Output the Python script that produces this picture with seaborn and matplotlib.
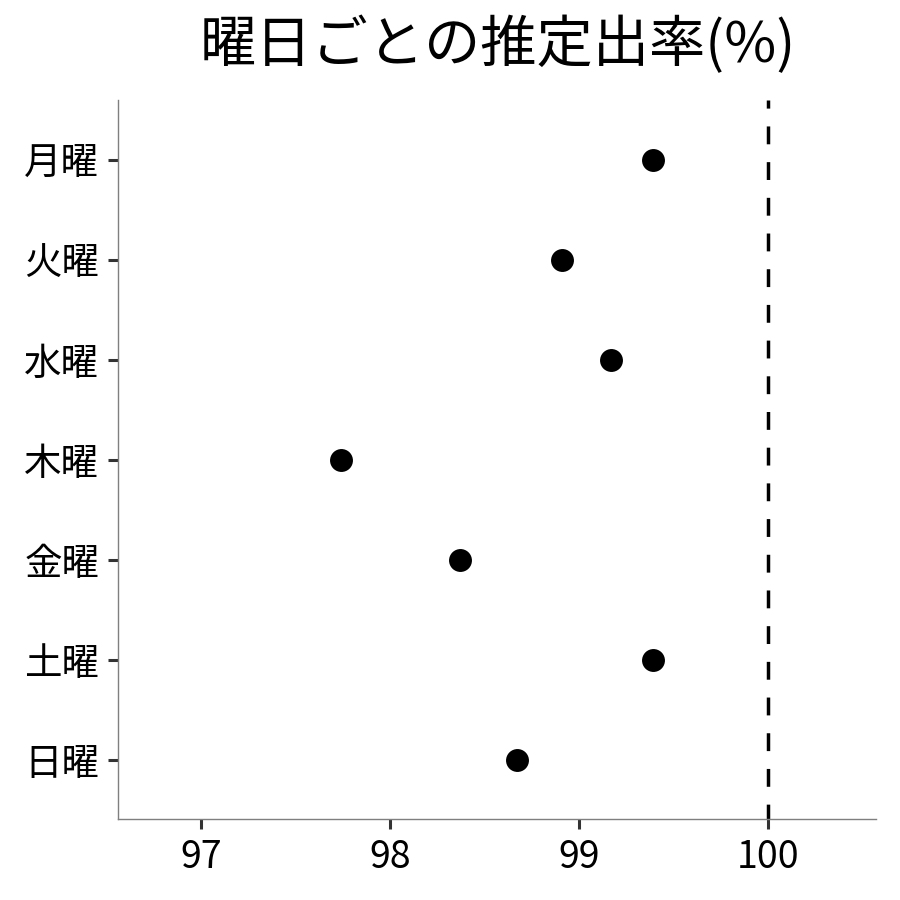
import pandas as pd
import matplotlib
matplotlib.use('Agg')
import matplotlib.pyplot as plt
import seaborn as sns

days = ['月曜', '火曜', '水曜', '木曜', '金曜', '土曜', '日曜']
rates = [99.39, 98.91, 99.17, 97.74, 98.37, 99.39, 98.67]
x_ticks = [97, 98, 99, 100]
ref_line = 100

df = pd.DataFrame({'曜日': days, '出率': rates})

sns.set_style('white')
plt.rcParams['font.family'] = ['Noto Sans CJK JP', 'DejaVu Sans']

fig = plt.figure(figsize=(9, 9), dpi=100)
ax = fig.add_axes([0.131, 0.09, 0.842, 0.799])

sns.stripplot(data=df, x='出率', y='曜日', order=days, jitter=False,
              color='black', size=16.5, linewidth=0, ax=ax)
ax.axvline(ref_line, color='black', linestyle=(0.86, (5.14, 5.14)), linewidth=2.5)

ax.set_xlim(96.56, 100.57)
ax.set_ylim(6.59, -0.6)
ax.set_xticks(x_ticks)
ax.set_xlabel('')
ax.set_ylabel('')
ax.tick_params(axis='both', which='major', labelsize=27, length=7, width=2.2,
               color='#333333', pad=6.5, labelcolor='black', direction='out')
ax.tick_params(axis='both', bottom=True, left=True)

for side in ['top', 'right']:
    ax.spines[side].set_visible(False)
for side in ['left', 'bottom']:
    ax.spines[side].set_color('#7f7f7f')
    ax.spines[side].set_linewidth(1)

fig.suptitle('曜日ごとの推定出率(%)', fontsize=40.5, color='black',
             x=0.553, y=0.982, va='top')

fig.savefig('out.png', dpi=100)
